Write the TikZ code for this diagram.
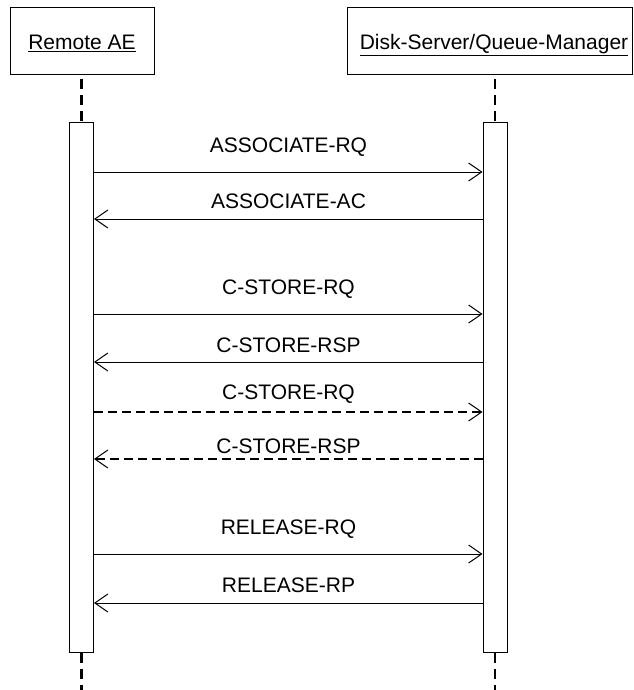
\documentclass[tikz,border=0pt]{standalone}
\usepackage{fontspec}
\setmainfont{Liberation Sans}
\usetikzlibrary{arrows.meta}
\begin{document}
\begin{tikzpicture}[x=1pt,y=-1pt,
  lbl/.style={font=\fontsize{21}{25}\selectfont, inner sep=0pt},
  actor/.style={draw, line width=1pt, inner sep=0pt},
  actbox/.style={draw, fill=white, line width=1pt, inner sep=0pt},
  life/.style={line width=2.4pt, dash pattern=on 10pt off 6pt},
  msg/.style={line width=1pt, -{Straight Barb[length=13pt,width=18pt,line width=1pt]}},
  dmsg/.style={msg, line width=2pt, dash pattern=on 9pt off 5pt}]
\useasboundingbox (0,0) rectangle (633,690);
% actors
\node[actor, minimum width=144pt, minimum height=67pt] (ae) at (82,41.5) {};
\node[actor, minimum width=285pt, minimum height=67pt] (ds) at (489.5,41.5) {};
\node[lbl, anchor=base] (aet) at (82,49.5) {\underline{Remote AE}};
\node[lbl, anchor=base] (dst) at (494,49.5) {\underline{Disk-Server/Queue-Manager}};
% activation boxes
\node[actbox, minimum width=24pt, minimum height=529pt] (a1) at (81.5,387.5) {};
\node[actbox, minimum width=24pt, minimum height=529pt] (a2) at (495,387.5) {};
\coordinate (e1) at (81.5,690);
\coordinate (e2) at (495,690);
% lifelines
\draw[life, shorten <=4pt] (ae.south -| a1.north) -- (a1.north);
\draw[life, shorten <=4pt] (ds.south -| a2.north) -- (a2.north);
\draw[life] (a1.south) -- (e1);
\draw[life] (a2.south) -- (e2);
% message levels
\coordinate (y1) at (0,172);
\coordinate (y2) at (0,219);
\coordinate (y3) at (0,314);
\coordinate (y4) at (0,362);
\coordinate (y5) at (0,412);
\coordinate (y6) at (0,459);
\coordinate (y7) at (0,554);
\coordinate (y8) at (0,603);
% messages
\draw[msg] (a1.east |- y1) -- (a2.west |- y1);
\draw[msg] (a2.west |- y2) -- (a1.east |- y2);
\draw[msg] (a1.east |- y3) -- (a2.west |- y3);
\draw[msg] (a2.west |- y4) -- (a1.east |- y4);
\draw[dmsg] (a1.east |- y5) -- (a2.west |- y5);
\draw[dmsg] (a2.west |- y6) -- (a1.east |- y6);
\draw[msg] (a1.east |- y7) -- (a2.west |- y7);
\draw[msg] (a2.west |- y8) -- (a1.east |- y8);
% labels
\node[lbl, anchor=base] (l1) at (288.5,152) {ASSOCIATE-RQ};
\node[lbl, anchor=base] (l2) at (288.5,208) {ASSOCIATE-AC};
\node[lbl, anchor=base] (l3) at (288.5,294) {C-STORE-RQ};
\node[lbl, anchor=base] (l4) at (288.5,352) {C-STORE-RSP};
\node[lbl, anchor=base] (l5) at (288.5,399) {C-STORE-RQ};
\node[lbl, anchor=base] (l6) at (288.5,453) {C-STORE-RSP};
\node[lbl, anchor=base] (l7) at (288.5,534) {RELEASE-RQ};
\node[lbl, anchor=base] (l8) at (288.5,592) {RELEASE-RP};
\end{tikzpicture}
\end{document}
